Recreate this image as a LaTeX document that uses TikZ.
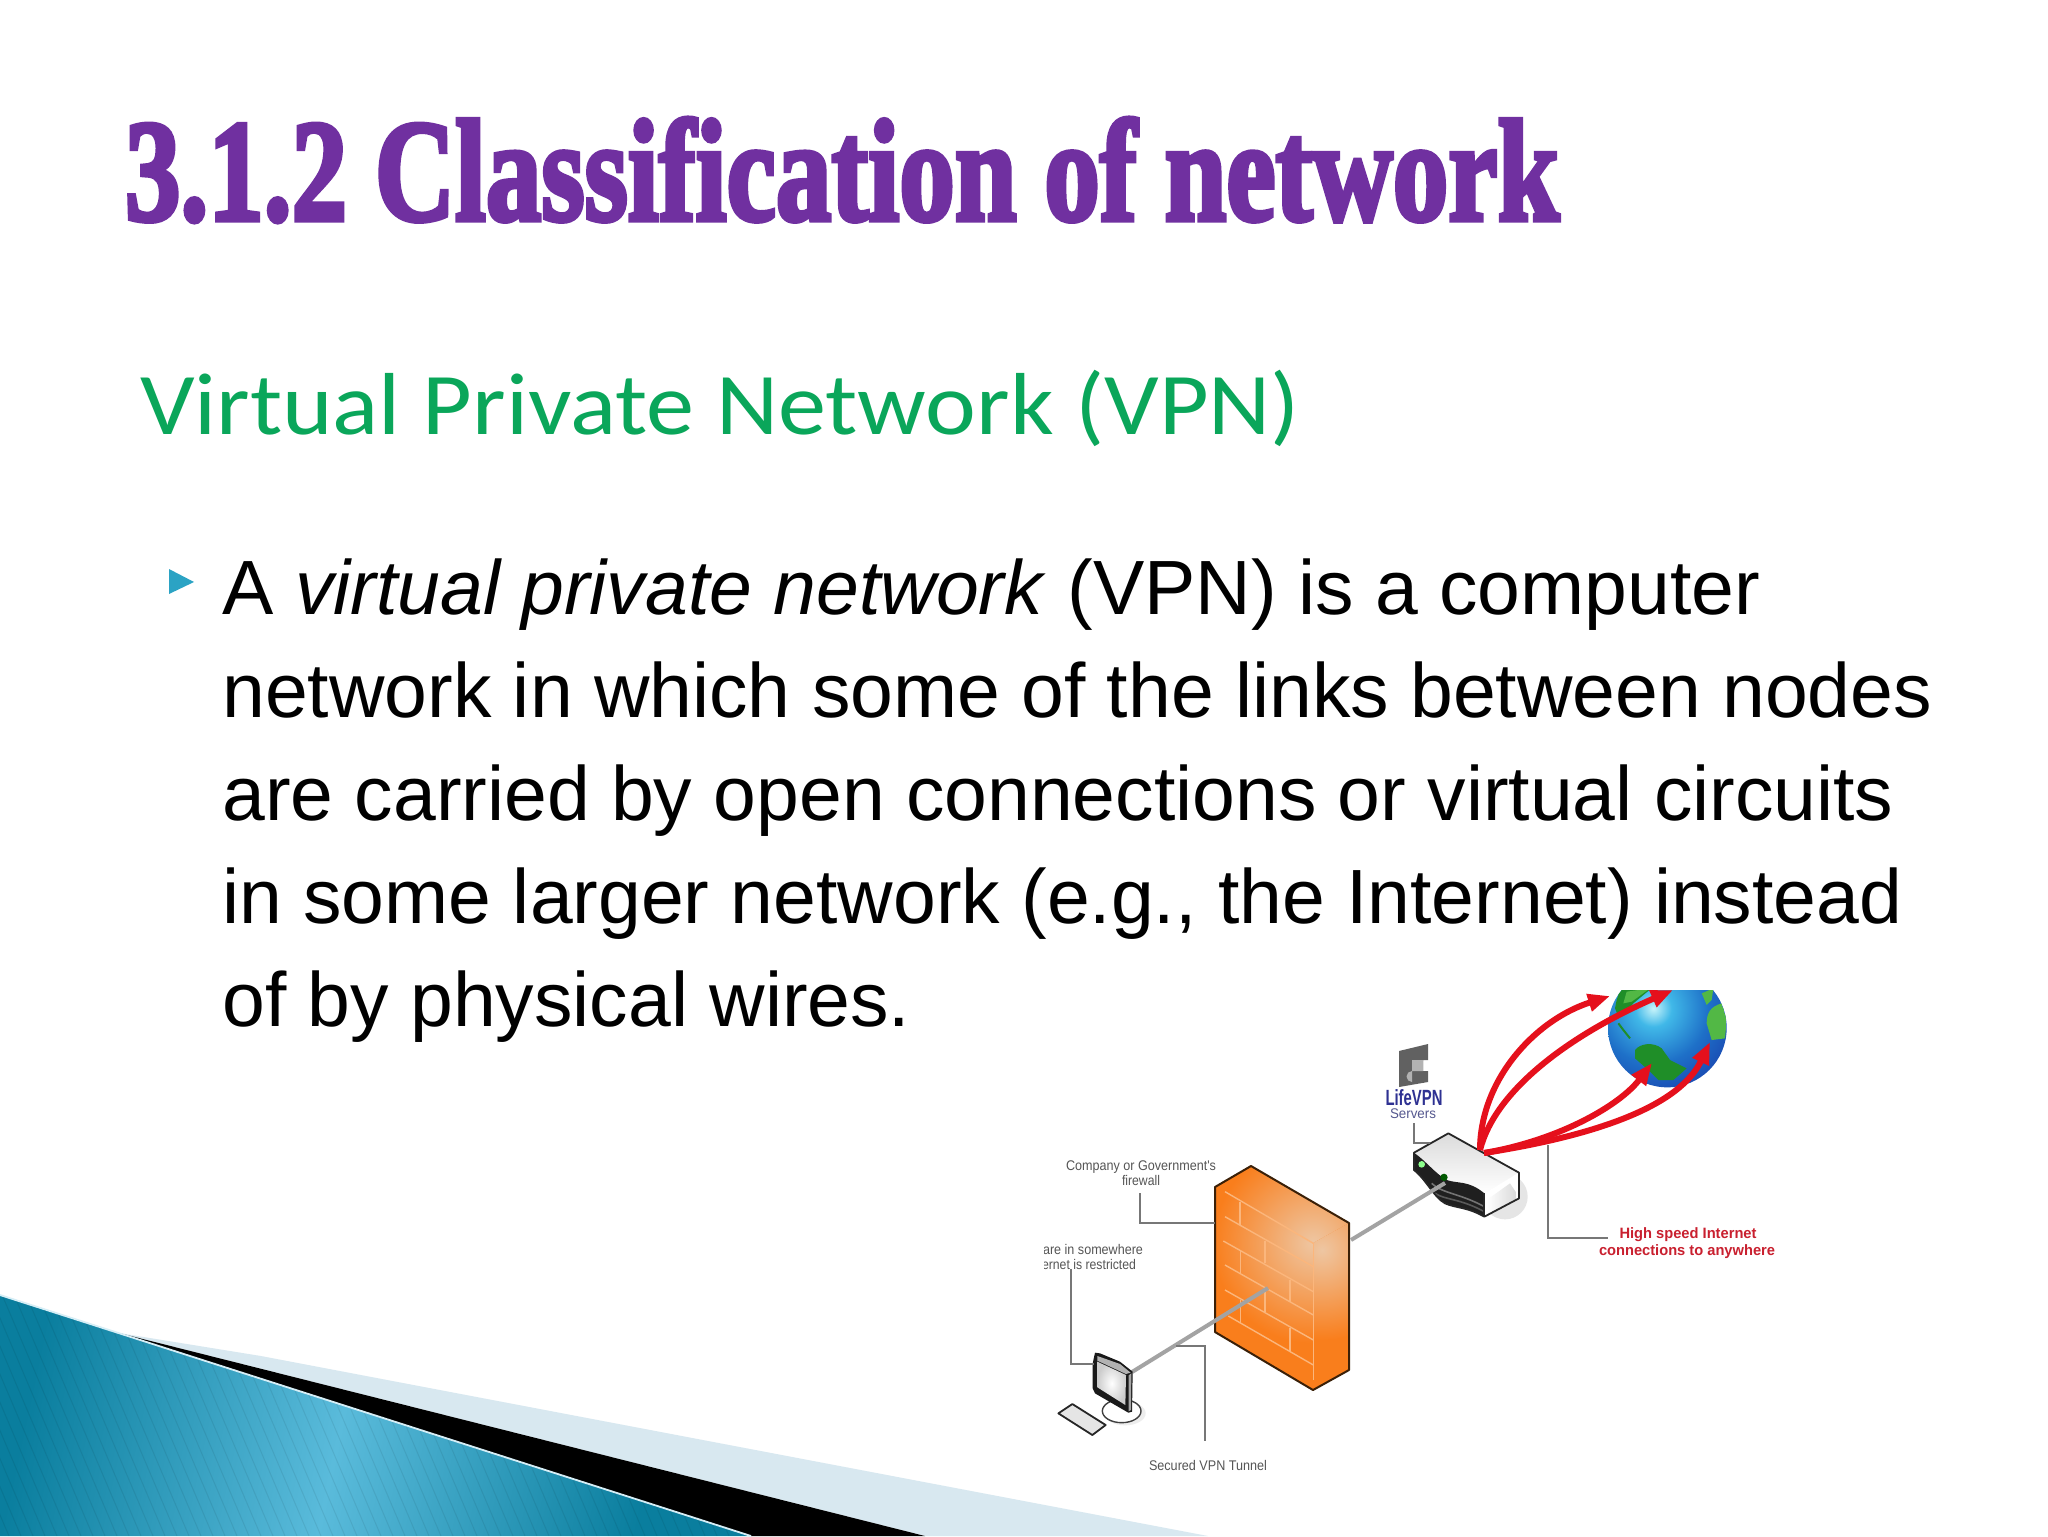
\documentclass[tikz,border=0pt]{standalone}
\usepackage{fontspec}
\usepackage{graphicx}
\usetikzlibrary{arrows.meta}
\setmainfont{Liberation Sans}
\newfontfamily\titlefont[FakeBold=3.5]{Liberation Serif Bold}
\newfontfamily\subfont{Carlito}
\newfontfamily\labelfont{Liberation Sans}
\newcommand{\fitw}[2]{\resizebox{#1}{\height}{#2}}
\definecolor{titlepurple}{HTML}{7030A0}
\definecolor{subgreen}{HTML}{0AA65A}
\definecolor{bullblue}{HTML}{2BA3C4}
\definecolor{tealdark}{HTML}{0A7E9E}
\definecolor{teallight}{HTML}{5ABBDB}
\definecolor{palesky}{HTML}{D8E8F0}
\definecolor{orangemain}{HTML}{F97E1C}
\definecolor{orangepale}{HTML}{EEC6A2}
\definecolor{fwedge}{HTML}{3A2008}
\definecolor{brickline}{HTML}{FBB67C}
\definecolor{arcred}{HTML}{E5101C}
\definecolor{leadgray}{HTML}{777777}
\definecolor{tunnelgray}{HTML}{A3A3A3}
\definecolor{labelgray}{HTML}{555555}
\definecolor{navy}{HTML}{2E3192}
\definecolor{navysoft}{HTML}{55588F}
\definecolor{labelred}{HTML}{C9202F}
\definecolor{landgreen}{HTML}{1F8E28}
\definecolor{landbright}{HTML}{52B845}
\definecolor{gsA}{HTML}{C8F4FA}
\definecolor{gsB}{HTML}{40B8E8}
\definecolor{gsC}{HTML}{1E70C8}
\definecolor{gsD}{HTML}{1838A8}
\definecolor{gsE}{HTML}{0C2060}
\pgfdeclareradialshading{globeshade}{\pgfpoint{0bp}{0bp}}{color(0bp)=(gsA); color(5bp)=(gsB); color(15bp)=(gsC); color(28bp)=(gsD); color(50bp)=(gsE)}
\pgfdeclarehorizontalshading{tealband}{100bp}{color(0bp)=(tealdark); color(38.6bp)=(tealdark); color(50bp)=(teallight); color(61.4bp)=(tealdark); color(100bp)=(tealdark)}
\tikzset{
  leader/.style={draw=leadgray,line width=0.8pt},
  tunnel/.style={draw=tunnelgray,line width=2pt},
  arc/.style={draw=arcred,line width=3pt,-{Triangle[length=11pt,width=8.5pt]}},
  txt/.style={inner sep=0pt,outer sep=0pt,anchor=base},
  brick/.style={draw=brickline,line width=0.7pt},
  edge3d/.style={draw=fwedge,line width=1pt,line join=round},
  dark3d/.style={draw=black!85,line width=0.9pt,line join=round}
}
\begin{document}
\begin{tikzpicture}[x=0.5pt,y=-0.5pt]
\useasboundingbox (0,0) rectangle (2048,1536);
\fill[white] (0,0) rectangle (2048,1536);

% corner decoration
\fill[palesky] (119,1333) -- (261,1356) -- (1208,1536) -- (925,1536) -- cycle;
\fill[black] (119,1333) -- (925,1536) -- (751,1536) -- cycle;
\begin{scope}
  \clip (0,1295) -- (751,1536) -- (0,1536) -- cycle;
  \shade[shading=tealband,shading angle=-12] (-400,1000) rectangle (1050,2000);
  \foreach \sx in {-120,-108,...,760}
    \draw[black,opacity=0.07,line width=0.5pt] (\sx,1290) -- ++(105,246);
\end{scope}
\draw[white!75!teallight,line width=0.9pt] (0,1295) -- (751,1536);

% heading
\node[txt,anchor=base west,text=titlepurple] (title) at (125,220)
  {\resizebox{717pt}{51pt}{\titlefont 3.1.2 Classification of network}};
\node[txt,anchor=base west,text=subgreen] (subtitle) at (140,434)
  {\fitw{580pt}{\subfont\fontsize{44}{50}\selectfont Virtual Private Network (VPN)}};

% bullet and body
\fill[bullblue] (169,569) -- (194,582) -- (169,594) -- cycle;
\node[inner sep=0pt,anchor=north west,align=left,font=\fontsize{38.45}{51.5}\selectfont] (body) at (222,558)
  {A \textit{virtual private network} (VPN) is a computer\\
   network in which some of the links between nodes\\
   are carried by open connections or virtual circuits\\
   in some larger network (e.g., the Internet) instead\\
   of by physical wires.};

% firewall
\coordinate (fwT) at (1251,1166);
\coordinate (fwL) at (1215,1187);
\coordinate (fwR) at (1349,1223);
\coordinate (fwF) at (1313,1243);
\coordinate (fwBL) at (1215,1332);
\coordinate (fwB) at (1313,1390);
\coordinate (fwBR) at (1349,1370);
\fill[orangemain] (fwT) -- (fwR) -- (fwBR) -- (fwB) -- (fwBL) -- (fwL) -- cycle;
\begin{scope}
  \clip (fwL) -- (fwF) -- (fwB) -- (fwBL) -- cycle;
  \shade[inner color=orangepale,outer color=orangemain] (fwF) circle (100);
\end{scope}
\begin{scope}
  \clip (fwT) -- (fwR) -- (fwF) -- (fwL) -- cycle;
  \shade[inner color=orangepale,outer color=orangemain] (fwF) circle (100);
\end{scope}
\begin{scope}
  \clip (fwF) -- (fwR) -- (fwBR) -- (fwB) -- cycle;
  \shade[inner color=orangepale,outer color=orangemain] (1322,1250) circle (90);
\end{scope}
\begin{scope}[shift={(1200,1155)},scale=1/3]
  \foreach \ax/\ay/\bx/\by in {75/110/340/265,75/185/340/335,70/258/340/410,75/330/340/480,75/405/340/555,85/483/340/630,
     120/140/120/210,195/258/195/325,122/285/122/355,270/375/270/440,195/400/195/470,122/435/122/505,270/520/270/590,340/265/340/675}
    \draw[brick] (\ax,\ay) -- (\bx,\by);
\end{scope}
\draw[edge3d] (fwT) -- (fwR) -- (fwBR) -- (fwB) -- (fwBL) -- (fwL) -- cycle;

% tunnels
\coordinate (tun1) at (1268,1288);
\coordinate (tun2) at (1132,1372);
\coordinate (tun3) at (1351,1240);
\coordinate (tun4) at (1445,1183);
\draw[tunnel] (tun1) -- (tun2);

% server
\begin{scope}[shift={(1320,980)},scale=1/3]
  \fill[black!10] (555,650) circle (68);
  \path[fill=white] (385,460) -- (282,518) .. controls (320,545) and (345,580) .. (380,600) .. controls (415,612) and (445,600) .. (493,640) -- (597,578) -- cycle;
  \shade[top color=black!14,bottom color=white] (385,460) -- (282,518) .. controls (320,545) and (345,580) .. (380,600) .. controls (415,612) and (445,600) .. (493,640) -- (597,578) -- cycle;
  \fill[black!88] (282,518) .. controls (320,545) and (345,580) .. (380,600) .. controls (415,612) and (445,600) .. (493,640) -- (493,710) .. controls (440,680) and (410,685) .. (375,670) .. controls (340,650) and (320,600) .. (282,570) -- cycle;
  \draw[black!55,line width=0.8pt] (335,610) .. controls (365,640) and (420,640) .. (493,680);
  \draw[black!65,line width=0.8pt] (345,640) .. controls (375,660) and (420,655) .. (493,695);
  \fill[green!45!white] (305,553) circle (10);
  \fill[green!35!black] (372,592) circle (11);
  \fill[white] (493,640) -- (597,578) -- (597,655) -- (493,710) -- cycle;
  \shade[left color=white,right color=black!15] (500,660) -- (570,610) -- (590,640) -- (590,655) -- (500,705) -- cycle;
  \draw[dark3d] (385,460) -- (282,518) -- (282,570) .. controls (320,600) and (340,650) .. (375,670) .. controls (410,685) and (440,680) .. (493,710) -- (597,655) -- (597,578) -- cycle;
  \draw[dark3d] (493,640) -- (493,710);
\end{scope}
\draw[tunnel] (tun3) -- (tun4);

% LifeVPN icon
\fill[black!62] (1399,1051) -- (1428,1044) -- (1428,1060) -- (1423,1060) -- (1423,1071) -- (1428,1071) -- (1428,1082) -- (1399,1087) -- cycle;
\fill[black!30] (1412,1060) -- (1423,1060) -- (1423,1071) -- (1412,1071) arc (270:90:5.5) -- cycle;

% globe
\begin{scope}
  \clip (1440,990) rectangle (1800,1200);
  \begin{scope}[shift={(1590,980)},scale=1/3]
    \begin{scope}
      \clip (232,144) circle (178);
      \shade[shading=globeshade] (190,85) circle (275);
      \fill[landgreen] (80,60) -- (90,30) -- (190,20) -- (130,70) -- (100,105) -- (85,110) -- (75,85) -- cycle;
      \fill[landbright] (110,35) -- (180,25) -- (125,65) -- (100,70) -- cycle;
      \draw[landgreen,line width=1pt] (85,130) -- (100,150) -- (120,175);
      \fill[landgreen] (135,210) .. controls (150,190) and (190,185) .. (215,205) -- (240,240) -- (290,265) -- (250,300) -- (205,300) -- (175,270) -- (135,235) -- cycle;
      \fill[landbright] (350,130) .. controls (350,100) and (360,80) .. (395,70) -- (410,120) -- (405,175) -- (365,180) -- cycle;
      \fill[landbright] (335,40) -- (370,25) -- (365,60) -- (350,75) -- cycle;
    \end{scope}
  \end{scope}
  % red connections
  \coordinate (srvA) at (1480,1150);
  \coordinate (srvB) at (1484,1153);
  \coordinate (arcA) at (1610,996);
  \coordinate (arcB) at (1673,990);
  \coordinate (arcC) at (1652,1063);
  \coordinate (arcD) at (1710,1042);
  \draw[arc] (srvA) .. controls (1480,1080) and (1535,1020) .. (arcA);
  \draw[arc] (srvA) .. controls (1495,1090) and (1570,1035) .. (arcB);
  \draw[arc] (srvB) .. controls (1560,1140) and (1620,1105) .. (arcC);
  \draw[arc] (srvB) .. controls (1600,1135) and (1680,1105) .. (arcD);
\end{scope}

% monitor and keyboard
\begin{scope}[shift={(1040,1330)},scale=1/3]
  \fill[black!7] (255,250) ellipse (62 and 36);
  \draw[fill=white,draw=black!75,line width=0.7pt] (245,243) ellipse (58 and 35);
  \fill[black!90] (158,100) -- (165,68) -- (180,70) -- (240,95) -- (278,125) -- (276,245) -- (265,248) -- (165,190) -- (158,175) -- cycle;
  \fill[black!30] (172,78) -- (240,102) -- (272,128) -- (258,132) -- (172,92) -- cycle;
  \fill[black!35] (266,136) -- (274,130) -- (273,240) -- (266,244) -- cycle;
  \shade[inner color=white,outer color=black!20] (172,95) -- (258,135) -- (256,225) -- (172,172) -- cycle;
  \draw[fill=black!10,draw=black!85,line width=0.9pt,line join=round] (55,250) -- (97,222) -- (197,285) -- (157,315) -- cycle;
\end{scope}

% leader lines
\coordinate (ldFwA) at (1140,1193);
\coordinate (ldFwB) at (1215,1223);
\draw[leader] (ldFwA) |- (ldFwB);
\coordinate (ldMonA) at (1071,1269);
\coordinate (ldMonB) at (1094,1364);
\draw[leader] (ldMonA) |- (ldMonB);
\coordinate (ldTunA) at (1176,1346);
\coordinate (ldTunB) at (1205,1441);
\draw[leader] (ldTunA) -| (ldTunB);
\coordinate (ldSrvA) at (1414,1123);
\coordinate (ldSrvB) at (1430,1143);
\draw[leader] (ldSrvA) |- (ldSrvB);
\coordinate (ldHiA) at (1548,1145);
\coordinate (ldHiB) at (1608,1238);
\draw[leader] (ldHiA) |- (ldHiB);

% labels
\node[txt,text=labelgray] (lfw1) at (1141,1170) {\fitw{75pt}{\labelfont\fontsize{7}{8}\selectfont Company or Government's}};
\node[txt,text=labelgray] (lfw2) at (1141,1185) {\fitw{19pt}{\labelfont\fontsize{7}{8}\selectfont firewall}};
\begin{scope}
  \clip (1044,1230) rectangle (1200,1280);
  \node[txt,anchor=base west,text=labelgray] (lsome) at (1043,1254) {\fitw{50pt}{\labelfont\fontsize{7}{8}\selectfont are in somewhere}};
  \node[txt,anchor=base west,text=labelgray] (lres) at (1042,1269) {\fitw{47pt}{\labelfont\fontsize{7}{8}\selectfont ernet is restricted}};
\end{scope}
\node[txt,text=labelgray] (ltun) at (1208,1470) {\fitw{59pt}{\labelfont\fontsize{7}{8}\selectfont Secured VPN Tunnel}};
\node[txt,text=navy] (llife) at (1414,1105) {\fitw{28.5pt}{\labelfont\bfseries\fontsize{11}{12}\selectfont LifeVPN}};
\node[txt,text=navysoft] (lserv) at (1413,1118) {\fitw{23pt}{\labelfont\fontsize{7}{8}\selectfont Servers}};
\node[txt,text=labelred] (lhi1) at (1688,1238) {\fitw{68.5pt}{\labelfont\bfseries\fontsize{7.5}{8}\selectfont High speed Internet}};
\node[txt,text=labelred] (lhi2) at (1687,1255) {\fitw{88pt}{\labelfont\bfseries\fontsize{7.5}{8}\selectfont connections to anywhere}};
\end{tikzpicture}
\end{document}
